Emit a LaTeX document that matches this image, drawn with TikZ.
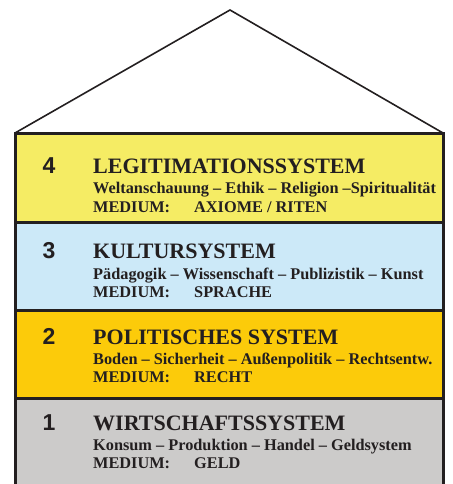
\documentclass[tikz,border=0pt]{standalone}
\usepackage{fontspec}
\setmainfont{Liberation Serif}
\newfontfamily\numfont{Liberation Sans}
\definecolor{ink}{HTML}{231F20}
\definecolor{cYellow}{HTML}{F5EC64}
\definecolor{cBlue}{HTML}{CCE9F8}
\definecolor{cGold}{HTML}{FCCB0A}
\definecolor{cGray}{HTML}{CCCBCA}
\tikzset{
  layer/.style={draw=ink, line width=3pt},
  numtxt/.style={anchor=base, inner sep=0pt, text=ink, font=\numfont\bfseries\fontsize{23}{23}\selectfont},
  titletxt/.style={anchor=base west, inner sep=0pt, text=ink, font=\bfseries\fontsize{22}{22}\selectfont},
  subtxt/.style={anchor=base west, inner sep=0pt, text=ink, font=\bfseries\fontsize{16.3}{16.3}\selectfont},
}
\begin{document}
\begin{tikzpicture}[x=1pt,y=-1pt]
\useasboundingbox (0,0) rectangle (452,484);
% roof
\draw[ink, line width=1.6pt, line join=miter] (15,133) -- (230,10) -- (443,133);
% layers
\fill[cGray] (15,398) rectangle (443,490);
\fill[cGold] (15,310) rectangle (443,398);
\fill[cBlue] (15,222) rectangle (443,310);
\fill[cYellow] (15,133) rectangle (443,222);
\draw[layer] (15,490) -- (15,133) -- (443,133) -- (443,490);
\draw[layer] (15,222) -- (443,222);
\draw[layer] (15,310) -- (443,310);
\draw[layer] (15,398) -- (443,398);
% layer 4
\node[numtxt] (n4) at (49,173) {4};
\node[titletxt] (t4) at (93,173) {LEGITIMATIONSSYSTEM};
\node[subtxt] (s4) at (93,193) {Weltanschauung – Ethik – Religion –Spiritualität};
\node[subtxt] (m4) at (93,212) {MEDIUM:};
\node[subtxt] (v4) at (194,212) {AXIOME / RITEN};
% layer 3
\node[numtxt] (n3) at (49,258) {3};
\node[titletxt] (t3) at (93,258) {KULTURSYSTEM};
\node[subtxt] (s3) at (93,279) {Pädagogik – Wissenschaft – Publizistik – Kunst};
\node[subtxt] (m3) at (93,297) {MEDIUM:};
\node[subtxt] (v3) at (194,297) {SPRACHE};
% layer 2
\node[numtxt] (n2) at (49,344) {2};
\node[titletxt] (t2) at (93,344) {POLITISCHES SYSTEM};
\node[subtxt] (s2) at (93,364) {Boden – Sicherheit – Außenpolitik – Rechtsentw.};
\node[subtxt] (m2) at (93,382) {MEDIUM:};
\node[subtxt] (v2) at (194,382) {RECHT};
% layer 1
\node[numtxt] (n1) at (49,430) {1};
\node[titletxt] (t1) at (93,430) {WIRTSCHAFTSSYSTEM};
\node[subtxt] (s1) at (93,450) {Konsum – Produktion – Handel – Geldsystem};
\node[subtxt] (m1) at (93,468) {MEDIUM:};
\node[subtxt] (v1) at (194,468) {GELD};
\end{tikzpicture}
\end{document}
